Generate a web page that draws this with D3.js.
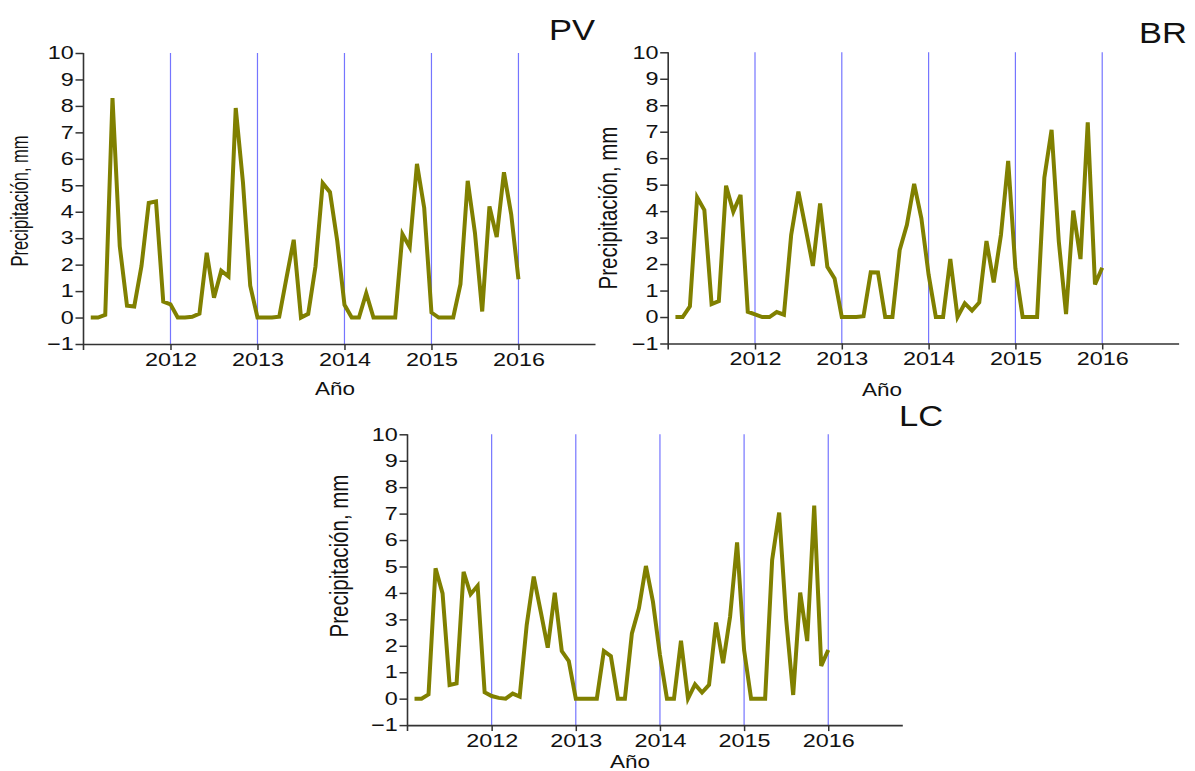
<!DOCTYPE html>
<html>
<head>
<meta charset="utf-8">
<script src="https://cdn.jsdelivr.net/npm/d3@7"></script>
<style>
body { margin: 0; background: #fff; }
text { font-family: "Liberation Sans", Arial, sans-serif; fill: #111; }
</style>
</head>
<body>
<div id="chart"></div>
<script>
// monthly precipitation, Jan 2011 .. Dec 2015 (each month drawn at its end)
var months = d3.timeMonth.range(new Date(2011, 0, 1), new Date(2016, 0, 1));

var pv = [0, 0, 0.1, 8.3, 2.7, 0.45, 0.42, 1.95, 4.33, 4.39, 0.6, 0.5,
          0, 0, 0.03, 0.15, 2.45, 0.75, 1.77, 1.55, 7.92, 5.1, 1.2, 0,
          0, 0, 0.03, 1.5, 2.94, 0, 0.14, 1.93, 5.08, 4.74, 2.9, 0.48,
          0, 0, 0.92, 0, 0, 0, 0, 3.15, 2.66, 5.81, 4.14, 0.19,
          0, 0, 0, 1.26, 5.17, 3.2, 0.23, 4.2, 3.04, 5.49, 3.9, 1.45];

var br = [0, 0, 0.4, 4.52, 4.04, 0.49, 0.6, 4.96, 3.98, 4.61, 0.2, 0.1,
          0, 0, 0.19, 0.09, 3.1, 4.74, 3.35, 1.93, 4.29, 1.9, 1.46, 0,
          0, 0, 0.03, 1.69, 1.68, 0, 0, 2.53, 3.48, 5.03, 3.73, 1.6,
          0, 0, 2.19, 0, 0.52, 0.24, 0.55, 2.87, 1.31, 3.1, 5.9, 1.84,
          0, 0, 0, 5.26, 7.07, 2.85, 0.11, 4.02, 2.19, 7.35, 1.23, 1.86];

var lc = [0, 0, 0.16, 4.93, 3.98, 0.52, 0.58, 4.8, 3.95, 4.27, 0.24, 0.1,
          0.03, 0, 0.19, 0.08, 2.79, 4.62, 3.29, 1.93, 4.01, 1.8, 1.42, 0,
          0, 0, 0, 1.8, 1.61, 0, 0, 2.47, 3.42, 5.02, 3.67, 1.65,
          0, 0, 2.19, 0, 0.54, 0.23, 0.52, 2.88, 1.34, 3.1, 5.91, 1.84,
          0, 0, 0, 5.25, 7.04, 3.0, 0.14, 4.01, 2.18, 7.3, 1.24, 1.84];

var years = [2012, 2013, 2014, 2015, 2016];
var yTicks = [-1, 0, 1, 2, 3, 4, 5, 6, 7, 8, 9, 10];

var width = 1195;
var height = 771;

var svg = d3.select("#chart").append("svg")
            .attr("width", width)
            .attr("height", height);

var panels = [
  {title: "PV", values: pv, left: 83.5, right: 595, top: 53, bottom: 344,
   titleX: 549, titleY: 40, labX: 28, labY: 201, labSize: 16.5, labStretch: 1.45, anoX: 335, anoY: 395},
  {title: "BR", values: br, left: 668.2, right: 1178.6, top: 52.3, bottom: 343.5,
   titleX: 1139, titleY: 43, labX: 617, labY: 208, labSize: 20.5, labStretch: 1.25, anoX: 882, anoY: 396},
  {title: "LC", values: lc, left: 407.5, right: 902.3, top: 434.3, bottom: 725.1,
   titleX: 899, titleY: 426, labX: 348, labY: 556, labSize: 20.5, labStretch: 1.25, anoX: 630, anoY: 768}
];

function decYear(d) { return d.getFullYear() + (d.getMonth() + 1) / 12; }

panels.forEach(function(p) {
  var g = svg.append("g");

  var x = d3.scaleLinear().domain([2011, 2016.88]).range([p.left, p.right]);
  var y = d3.scaleLinear().domain([-1, 10]).range([p.bottom, p.top]);

  // yearly separators
  g.selectAll("line.year")
    .data(years)
    .enter().append("line")
    .attr("class", "year")
    .attr("x1", function(d) { return x(d); })
    .attr("x2", function(d) { return x(d); })
    .attr("y1", y(10))
    .attr("y2", y(-1))
    .attr("stroke", "#7575ff")
    .attr("stroke-width", 1.2);

  var line = d3.line()
    .x(function(d, i) { return x(decYear(months[i])); })
    .y(function(d) { return y(d); });

  g.append("path")
    .datum(p.values)
    .attr("d", line)
    .attr("fill", "none")
    .attr("stroke", "#808000")
    .attr("stroke-width", 4);

  var yAxis = d3.axisLeft(y).tickValues(yTicks).tickSize(8).tickSizeOuter(0);
  var yg = g.append("g")
    .attr("transform", "translate(" + p.left + ",0)")
    .call(yAxis);
  yg.select(".domain").remove();
  yg.selectAll("line").attr("stroke", "#333").attr("stroke-width", 1.5);
  yg.selectAll("text")
    .attr("x", -7.5)
    .attr("transform", "scale(1.3,1)")
    .style("font-size", "18px")
    .style("font-family", "'Liberation Sans', Arial, sans-serif")
    .attr("fill", "#111");

  g.append("line")
    .attr("x1", p.left).attr("x2", p.left)
    .attr("y1", y(10)).attr("y2", y(-1) + 6)
    .attr("stroke", "#333").attr("stroke-width", 1.6);

  var xAxis = d3.axisBottom(x).tickValues(years).tickSize(6).tickSizeOuter(0)
    .tickFormat(d3.format("d"));
  var xg = g.append("g")
    .attr("transform", "translate(0," + y(-1) + ")")
    .call(xAxis);
  xg.select(".domain").attr("stroke", "#333").attr("stroke-width", 1.6);
  xg.selectAll("line").attr("stroke", "#333").attr("stroke-width", 1.5);
  xg.selectAll("text")
    .attr("transform", "scale(1.3,1)")
    .style("font-size", "18px")
    .style("font-family", "'Liberation Sans', Arial, sans-serif")
    .attr("fill", "#111");

  g.append("text")
    .attr("transform", "translate(" + p.titleX + "," + p.titleY + ") scale(1.15,1)")
    .style("font-size", "30px")
    .text(p.title);

  g.append("text")
    .attr("transform", "translate(" + p.labX + "," + p.labY + ") scale(" + p.labStretch + ",1) rotate(-90)")
    .attr("text-anchor", "middle")
    .style("font-size", p.labSize + "px")
    .text("Precipitación, mm");

  g.append("text")
    .attr("transform", "translate(" + p.anoX + "," + p.anoY + ") scale(1.25,1)")
    .attr("text-anchor", "middle")
    .style("font-size", "18px")
    .text("Año");
});
</script>
</body>
</html>
